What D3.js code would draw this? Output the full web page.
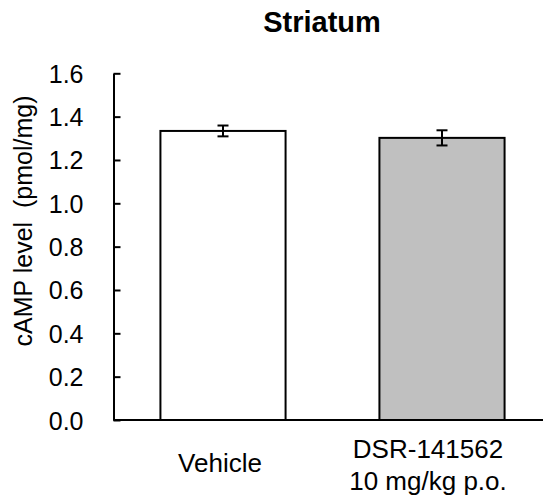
<!DOCTYPE html>
<html>
<head>
<meta charset="utf-8">
<script src="https://cdn.jsdelivr.net/npm/d3@7"></script>
<style>
  body { margin: 0; background: #fff; }
  text { font-family: "Liberation Sans", Arial, sans-serif; fill: #000; }
</style>
</head>
<body>
<div class="chart"></div>
<script>
//Data
var groups = ["Vehicle", "DSR-141562"];
var groupLines = [["Vehicle"], ["DSR-141562", "10 mg/kg p.o."]];
var means = [1.334, 1.302];
var errors = [0.025, 0.035];
var fills = ["#ffffff", "#c0c0c0"];
var yTicks = [0, 0.2, 0.4, 0.6, 0.8, 1.0, 1.2, 1.4, 1.6];

//Width and height
var width = 543, height = 498;
var margin = {left: 113.5, top: 73.3, bottom: 78, right: -8.5};

var svg = d3.select(".chart")
            .append("svg")
            .attr("width", width)
            .attr("height", height);

//scales -- excel gap width 75%
var x = d3.scaleBand()
          .domain(groups)
          .range([margin.left, width - margin.right])
          .paddingInner(3 / 7)
          .paddingOuter(3 / 14);

var y = d3.scaleLinear()
          .domain([0, 1.6])
          .range([height - margin.bottom, margin.top]);

//Title
svg.append("text")
    .attr("x", 322)
    .attr("y", 32)
    .attr("text-anchor", "middle")
    .style("font-size", "29px")
    .style("font-weight", "bold")
    .text("Striatum");

//y axis with inner ticks
var yAxis = svg.append("g")
    .attr("transform", "translate(" + margin.left + ",0)")
    .call(d3.axisLeft(y).tickValues(yTicks).tickSize(-7).tickSizeOuter(0).tickFormat(d3.format(".1f")));
yAxis.select(".domain").attr("stroke", "#000").attr("stroke-width", 2);
yAxis.selectAll(".tick line").attr("stroke", "#000").attr("stroke-width", 2);
yAxis.selectAll(".tick text")
    .attr("x", -30)
    .attr("dy", "0.36em")
    .style("font-size", "25px")
    .style("font-family", "'Liberation Sans', Arial, sans-serif")
    .attr("fill", "#000");

//Axis title
svg.append("text")
    .attr("transform", "translate(32," + 221 + ") rotate(-90)")
    .attr("text-anchor", "middle")
    .style("font-size", "25px")
    .style("white-space", "pre")
    .text("cAMP level  (pmol/mg)");

//Bars
svg.selectAll("rect.bar")
    .data(groups)
    .enter()
    .append("rect")
    .attr("class", "bar")
    .attr("x", function(d) { return x(d); })
    .attr("y", function(d, i) { return y(means[i]); })
    .attr("width", x.bandwidth())
    .attr("height", function(d, i) { return y(0) - y(means[i]); })
    .attr("fill", function(d, i) { return fills[i]; })
    .attr("stroke", "#000")
    .attr("stroke-width", 2);

//Error bars
var err = svg.selectAll("g.err")
    .data(groups)
    .enter()
    .append("g")
    .attr("class", "err")
    .attr("stroke", "#000")
    .attr("stroke-width", 2);
err.append("line")
    .attr("x1", function(d) { return x(d) + x.bandwidth() / 2; })
    .attr("x2", function(d) { return x(d) + x.bandwidth() / 2; })
    .attr("y1", function(d, i) { return y(means[i] + errors[i]); })
    .attr("y2", function(d, i) { return y(means[i] - errors[i]); });
[1, -1].forEach(function(s) {
    err.append("line")
        .attr("x1", function(d) { return x(d) + x.bandwidth() / 2 - 5.5; })
        .attr("x2", function(d) { return x(d) + x.bandwidth() / 2 + 5.5; })
        .attr("y1", function(d, i) { return y(means[i] + s * errors[i]); })
        .attr("y2", function(d, i) { return y(means[i] + s * errors[i]); });
});

//x axis line
svg.append("line")
    .attr("x1", margin.left)
    .attr("x2", width - margin.right)
    .attr("y1", y(0))
    .attr("y2", y(0))
    .attr("stroke", "#000")
    .attr("stroke-width", 2);

//Category labels, two-line one sits a bit left like in excel
var labels = svg.selectAll("text.cat")
    .data(groups)
    .enter()
    .append("text")
    .attr("class", "cat")
    .attr("text-anchor", "middle")
    .style("font-size", "26px")
    .attr("y", function(d, i) { return groupLines[i].length == 1 ? 471.5 : 457.5; });
labels.each(function(d, i) {
    var cx = x(d) + x.bandwidth() / 2 - (groupLines[i].length == 1 ? 3 : 14);
    d3.select(this).selectAll("tspan")
        .data(groupLines[i])
        .enter()
        .append("tspan")
        .attr("x", cx)
        .attr("dy", function(t, j) { return j == 0 ? 0 : 32.5; })
        .text(function(t) { return t; });
});
</script>
</body>
</html>
